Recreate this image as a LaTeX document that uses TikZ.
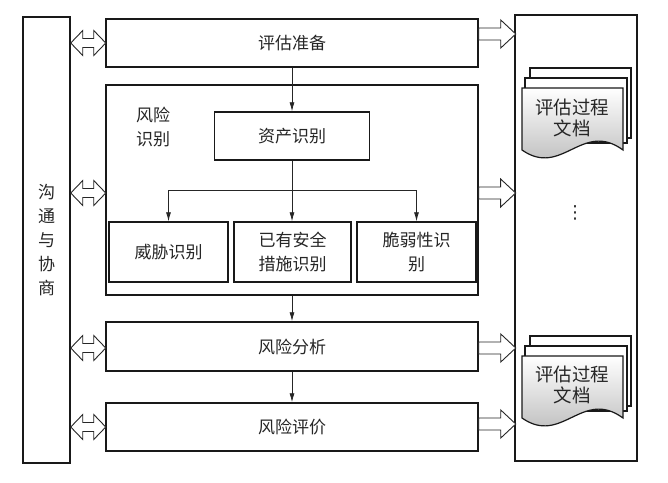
\documentclass[tikz,border=0pt]{standalone}
\usepackage{fontspec}
\setmainfont{Noto Sans CJK SC}
\newfontfamily\symfont{DejaVu Sans}
\usetikzlibrary{arrows.meta,calc}
\tikzset{
  box/.style={draw=black!90, line width=1.5pt, fill=white, text=black!85, align=center, inner sep=0pt,
    font=\fontsize{17}{24}\selectfont},
  inbox/.style={box, line width=1.4pt},
  conn/.style={draw=black!85, line width=0.8pt, -{Latex[length=9pt,width=5pt]}},
  arrline/.style={draw=black!85, line width=0.9pt, fill=white},
  docline/.style={draw=black!90, line width=1.2pt},
  doctext/.style={align=center, text=black!85, font=\fontsize{18.5}{21}\selectfont},
  dblarr/.pic={\draw[arrline] (0,0) -- (12,-12.5) -- (12,-4.5) -- (23,-4.5) -- (23,-12.5) -- (35,0)
      -- (23,12.5) -- (23,4.5) -- (12,4.5) -- (12,12.5) -- cycle;},
  outarr/.pic={\draw[arrline] (0,-6) -- (22,-6) -- (22,-14) -- (37,0) -- (22,14) -- (22,6) -- (0,6) -- cycle;},
  docstack/.pic={
    \draw[docline, fill=white] (8,-20) rectangle (109,50);
    \draw[docline, fill=white] (3,-10) rectangle (105,55);
    \draw[docline, top color=white, middle color=white, bottom color=black!30]
      (0,0) -- (101,0) -- (101,62) .. controls (60,32) and (40,90) .. (0,62) -- cycle;}
}
\begin{document}
\begin{tikzpicture}[x=1pt,y=-1pt]
\useasboundingbox[fill=white] (0,0) rectangle (668,482);

% side boxes
\node[box, minimum width=47pt, minimum height=446pt] (comm) at (46.5,240) {沟\\通\\与\\协\\商};
\node[box, line width=1.2pt, minimum width=122pt, minimum height=446pt] (out) at (576,238) {};

% main column
\node[box, minimum width=372pt, minimum height=48pt] (prep) at (292,43) {评估准备};
\node[box, line width=1.3pt, minimum width=372pt, minimum height=210pt] (riskid) at (292,190) {};
\node[align=center, text=black!85, font=\fontsize{17}{24}\selectfont] (rlabel) at (153,127) {风险\\识别};
\node[inbox, minimum width=155pt, minimum height=48pt] (asset) at (292,136) {资产识别};
\node[inbox, minimum width=119pt, minimum height=60pt] (threat) at (168.5,252) {威胁识别};
\node[inbox, minimum width=117pt, minimum height=60pt] (meas) at (292.5,252) {已有安全\\措施识别};
\node[inbox, minimum width=119pt, minimum height=60pt] (vuln) at (416.5,252) {脆弱性识\\别};
\node[box, minimum width=372pt, minimum height=49pt] (anal) at (292,346.5) {风险分析};
\node[box, minimum width=372pt, minimum height=48pt] (eval) at (292,427) {风险评价};

% connectors
\draw[conn] (prep.south) -- (prep.south |- asset.north);
\draw[conn] (asset.south) -- (asset.south |- meas.north);
\coordinate (br) at ($(asset.south)+(0,30)$);
\draw[conn] (br) -| (threat.north);
\draw[conn] (br) -| (vuln.north);
\draw[conn] (riskid.south) -- (anal.north);
\draw[conn] (anal.south) -- (eval.north);

% double arrows
\pic at (comm.east |- prep.west) {dblarr};
\pic at ($(comm.east |- riskid.west)+(0,3)$) {dblarr};
\pic at ($(comm.east |- anal.west)+(0,1.5)$) {dblarr};
\pic at (comm.east |- eval.west) {dblarr};

% output arrows
\pic at ($(prep.east)+(0,-9)$) {outarr};
\pic at ($(riskid.east)+(0,3)$) {outarr};
\pic at ($(anal.east)+(0,1.5)$) {outarr};
\pic at ($(eval.east)+(0,-3)$) {outarr};

% documents
\pic at (522,88) {docstack};
\node[doctext] (doc1) at (572,117.5) {评估过程\\文档};
\node[text=black!85, font=\symfont\fontsize{18}{18}\selectfont, inner sep=0pt] (dots) at (575,213) {⋮};
\pic at (522,356) {docstack};
\node[doctext] (doc2) at (572,385) {评估过程\\文档};
\end{tikzpicture}
\end{document}
